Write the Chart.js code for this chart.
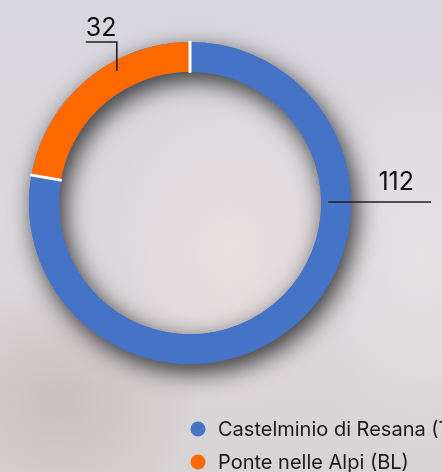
<!DOCTYPE html>
<html>
<head>
<meta charset="utf-8">
<script src="https://cdn.jsdelivr.net/npm/chart.js@4/dist/chart.umd.min.js"></script>
<style>
    html, body {
        margin: 0;
        padding: 0;
        width: 442px;
        height: 472px;
        overflow: hidden;
    }
    body {
        background:
            radial-gradient(ellipse 120px 160px at 230px 250px, rgba(236, 226, 226, 0.8), rgba(236, 226, 226, 0)),
            radial-gradient(ellipse 140px 120px at 60px 400px, rgba(190, 178, 176, 0.6), rgba(190, 178, 176, 0)),
            radial-gradient(ellipse 120px 200px at 420px 260px, rgba(232, 228, 230, 0.8), rgba(232, 228, 230, 0)),
            linear-gradient(180deg, #d9d8de 0%, #dcd8dc 50%, #d8d3d4 100%);
    }
    #wrap {
        position: relative;
        width: 442px;
        height: 472px;
    }
</style>
</head>
<body>
<div id="wrap"><canvas id="donutChart"></canvas></div>
<script>
// Chart data
const categories = ['Castelminio di Resana (TV)', 'Ponte nelle Alpi (BL)'];
const seriesValues = [112, 32];
const sliceColors = ['#4573c6', '#ff6a00'];

const FONT = 'Inter, "Liberation Sans", Arial, sans-serif';

// Drop shadow under the whole ring, drawn before the slices
const ringShadow = {
    id: 'ringShadow',
    beforeDatasetsDraw(chart) {
        const arc = chart.getDatasetMeta(0).data[0];
        if (!arc) return;
        const ctx = chart.ctx;
        ctx.save();
        ctx.shadowColor = 'rgba(0, 0, 0, 0.8)';
        ctx.shadowBlur = 24;
        ctx.shadowOffsetX = 5;
        ctx.shadowOffsetY = 8;
        ctx.beginPath();
        ctx.arc(arc.x, arc.y, arc.outerRadius, 0, Math.PI * 2);
        ctx.arc(arc.x, arc.y, arc.innerRadius, 0, Math.PI * 2, true);
        ctx.fillStyle = sliceColors[0];
        ctx.fill();
        ctx.restore();
    }
};

// White separators between slices and value labels with leader lines
const valueLabels = {
    id: 'valueLabels',
    afterDatasetsDraw(chart) {
        const ctx = chart.ctx;
        const meta = chart.getDatasetMeta(0);
        const values = chart.data.datasets[0].data;

        ctx.save();
        // separators
        ctx.strokeStyle = '#ffffff';
        ctx.lineWidth = 3;
        meta.data.forEach(arc => {
            const a = arc.startAngle;
            ctx.beginPath();
            ctx.moveTo(arc.x + Math.cos(a) * (arc.innerRadius - 1), arc.y + Math.sin(a) * (arc.innerRadius - 1));
            ctx.lineTo(arc.x + Math.cos(a) * (arc.outerRadius + 1), arc.y + Math.sin(a) * (arc.outerRadius + 1));
            ctx.stroke();
        });

        ctx.strokeStyle = '#1e1e1e';
        ctx.fillStyle = '#111111';
        ctx.lineWidth = 1.6;
        ctx.font = '25px ' + FONT;
        ctx.textBaseline = 'alphabetic';

        // first slice: horizontal line out to the right
        const a0 = meta.data[0];
        if (a0) {
            const y = a0.y - 1;
            const x1 = a0.x + a0.innerRadius + 7;
            const x2 = a0.x + a0.outerRadius + 80;
            ctx.beginPath();
            ctx.moveTo(x1, y);
            ctx.lineTo(x2, y);
            ctx.stroke();
            ctx.textAlign = 'right';
            ctx.fillText(String(values[0]), x2 - 17, y - 12);
        }

        // second slice: vertical tick up, then left
        const a1 = meta.data[1];
        if (a1) {
            const ang = -119 * Math.PI / 180;
            const r = a1.outerRadius - 10;
            const x = a1.x + Math.cos(ang) * r;
            const yTop = a1.y - a1.outerRadius;
            ctx.beginPath();
            ctx.moveTo(x, a1.y + Math.sin(ang) * r);
            ctx.lineTo(x, yTop);
            ctx.lineTo(x - 31, yTop);
            ctx.stroke();
            ctx.textAlign = 'left';
            ctx.fillText(String(values[1]), x - 31, yTop - 6);
        }
        ctx.restore();
    }
};

// Legend drawn at the bottom, starting under the ring's centre
const bottomLegend = {
    id: 'bottomLegend',
    afterDraw(chart) {
        const ctx = chart.ctx;
        const arc = chart.getDatasetMeta(0).data[0];
        if (!arc) return;
        const x0 = arc.x + 8;
        const y0 = 429;
        const rowGap = 33;
        ctx.save();
        ctx.font = '20px ' + FONT;
        ctx.textAlign = 'left';
        ctx.textBaseline = 'middle';
        chart.data.labels.forEach((label, i) => {
            const y = y0 + i * rowGap;
            ctx.beginPath();
            ctx.arc(x0, y, 7.5, 0, Math.PI * 2);
            ctx.fillStyle = sliceColors[i];
            ctx.fill();
            ctx.fillStyle = '#1a1a1a';
            ctx.fillText(label, x0 + 20, y + 1);
        });
        ctx.restore();
    }
};

document.addEventListener('DOMContentLoaded', function() {
    const ctx = document.getElementById('donutChart');
    new Chart(ctx, {
        type: 'doughnut',
        data: {
            labels: categories,
            datasets: [{
                data: seriesValues,
                backgroundColor: sliceColors,
                borderWidth: 0,
                hoverOffset: 0
            }]
        },
        options: {
            responsive: true,
            maintainAspectRatio: false,
            animation: false,
            cutout: '81.5%',
            layout: {
                padding: { left: 29, right: 91, top: 42, bottom: 108 }
            },
            plugins: {
                legend: { display: false },
                tooltip: { enabled: false }
            }
        },
        plugins: [ringShadow, valueLabels, bottomLegend]
    });
});
</script>
</body>
</html>
